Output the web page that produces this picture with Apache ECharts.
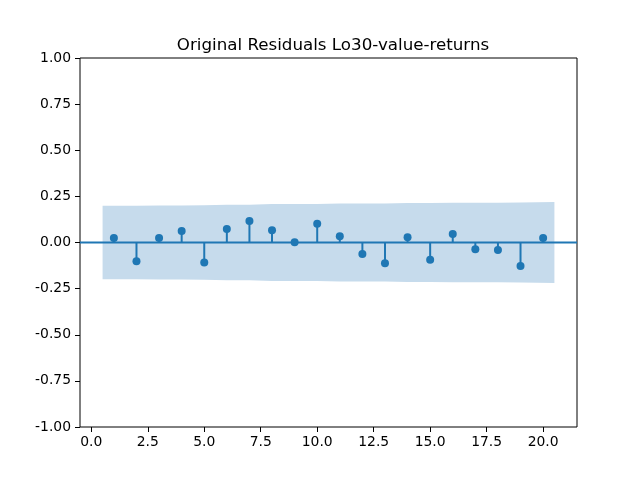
<!DOCTYPE html>
<html>
<head>
<meta charset="utf-8">
<script src="https://cdn.jsdelivr.net/npm/echarts@6/dist/echarts.min.js"></script>
<style>
  html, body { margin: 0; padding: 0; background: #fff; }
  #chart { width: 640px; height: 480px; }
</style>
</head>
<body>
<div id="chart"></div>
<script>
// lags and autocorrelation values
var lags = [1, 2, 3, 4, 5, 6, 7, 8, 9, 10, 11, 12, 13, 14, 15, 16, 17, 18, 19, 20];
var acf = [0.024, -0.101, 0.024, 0.062, -0.108, 0.073, 0.116, 0.067, 0.002, 0.101,
           0.034, -0.063, -0.112, 0.029, -0.094, 0.046, -0.036, -0.041, -0.128, 0.024];

// confidence band (half width), x runs from 0.5 to 20.5
var bandX = [0.5, 2, 3, 4, 5, 6, 7, 8, 9, 10, 11, 12, 13, 14, 15, 16, 17, 18, 19, 20.5];
var bandHalf = [0.199, 0.199, 0.201, 0.201, 0.202, 0.204, 0.205, 0.208, 0.209, 0.209,
                0.211, 0.211, 0.212, 0.214, 0.214, 0.216, 0.216, 0.216, 0.217, 0.220];

var xTicks = [0, 2.5, 5, 7.5, 10, 12.5, 15, 17.5, 20];

var blue = '#1f77b4';
var bandColor = '#c6dbec';
var font = 'DejaVu Sans';

var myChart = echarts.init(document.getElementById('chart'));

var points = lags.map(function (l, i) { return [l, acf[i]]; });
var upper = bandX.map(function (x, i) { return [x, bandHalf[i]]; });
var lower = bandX.map(function (x, i) { return [x, -bandHalf[i]]; });

var option = {
    animation: false,
    backgroundColor: '#fff',
    title: {
        text: 'Original Residuals Lo30-value-returns',
        left: 328,
        top: 32,
        textAlign: 'center',
        textStyle: { fontFamily: font, fontSize: 16.7, fontWeight: 'normal', color: '#000' }
    },
    grid: {
        left: 80, right: 63, top: 58, bottom: 53,
        show: true, borderColor: '#000', borderWidth: 1, backgroundColor: 'transparent'
    },
    xAxis: {
        type: 'value',
        min: -0.5,
        max: 21.5,
        axisLine: { show: false, onZero: false },
        splitLine: { show: false },
        axisTick: { show: true, length: 5, customValues: xTicks, lineStyle: { color: '#000' } },
        axisLabel: {
            customValues: xTicks,
            margin: 8,
            fontFamily: font, fontSize: 13.9, color: '#000',
            formatter: function (v) { return v.toFixed(1); }
        }
    },
    yAxis: {
        type: 'value',
        min: -1,
        max: 1,
        interval: 0.25,
        axisLine: { show: false, onZero: false },
        splitLine: { show: false },
        axisTick: { show: true, length: 5, lineStyle: { color: '#000' } },
        axisLabel: {
            margin: 9,
            fontFamily: font, fontSize: 13.9, color: '#000',
            formatter: function (v) { return v.toFixed(2); }
        }
    },
    series: [
        {
            // upper half of the band
            type: 'line',
            data: upper,
            symbol: 'none',
            lineStyle: { width: 0 },
            areaStyle: { color: bandColor, opacity: 1, origin: 0 },
            z: 1
        },
        {
            // lower half of the band
            type: 'line',
            data: lower,
            symbol: 'none',
            lineStyle: { width: 0 },
            areaStyle: { color: bandColor, opacity: 1, origin: 0 },
            z: 1
        },
        {
            // zero line across the whole axes
            type: 'line',
            data: [[-0.5, 0], [21.5, 0]],
            symbol: 'none',
            lineStyle: { color: blue, width: 2 },
            z: 2
        },
        {
            // stems
            type: 'bar',
            data: points,
            barWidth: 2,
            itemStyle: { color: blue },
            z: 3
        },
        {
            // markers
            type: 'scatter',
            data: points,
            symbol: 'circle',
            symbolSize: 8,
            itemStyle: { color: blue, opacity: 1 },
            z: 4
        }
    ]
};

myChart.setOption(option);
</script>
</body>
</html>
